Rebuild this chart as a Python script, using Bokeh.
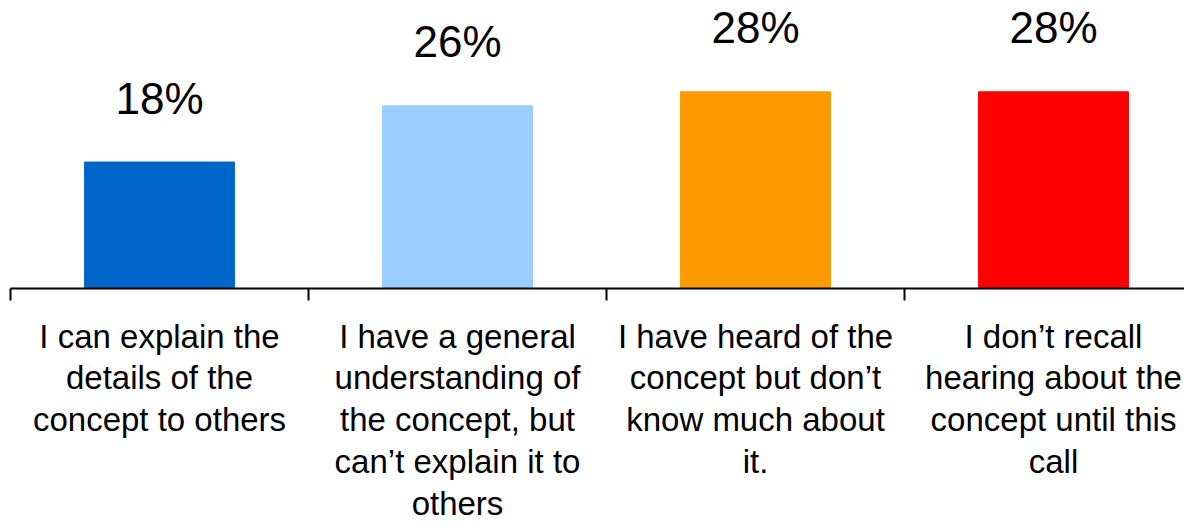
from bokeh.plotting import figure
from bokeh.models import Range1d, FixedTicker, ColumnDataSource, LinearAxis
from bokeh.embed import file_html
from bokeh.resources import INLINE
from bokeh.core.properties import value

categories = [
    "I can explain the\ndetails of the\nconcept to others",
    "I have a general\nunderstanding of\nthe concept, but\ncan\u2019t explain it to\nothers",
    "I have heard of the\nconcept but don\u2019t\nknow much about\nit.",
    "I don\u2019t recall\nhearing about the\nconcept until this\ncall",
]
values = [18, 26, 28, 28]
labels = ["18%", "26%", "28%", "28%"]
colors = ["#0066CC", "#99CCFF", "#FF9900", "#FF0000"]

xs = [i + 0.5 for i in range(len(values))]
src = ColumnDataSource(dict(x=xs, top=values, color=colors, label=labels))

FW, FH = 1174, 288
p = figure(frame_width=FW, frame_height=FH, output_backend="svg", toolbar_location=None,
           x_range=Range1d(0, FW / 298.0), y_range=Range1d(0, 41),
           min_border_left=10, min_border_right=0, min_border_top=0, min_border_bottom=0,
           x_axis_location=None, y_axis_location=None)
p.outline_line_color = None
p.grid.visible = False
p.background_fill_color = "white"
p.border_fill_color = "white"

p.vbar(x="x", top="top", width=0.503, bottom=0, color="color", source=src)
p.text(x="x", y="top", text="label", source=src, text_align="center",
       text_baseline="alphabetic", y_offset=-64,
       text_font=value("Liberation Sans"), text_font_size="44px", text_color="black")

ax = LinearAxis()
ax.ticker = FixedTicker(ticks=xs, minor_ticks=[0, 1, 2, 3, 4])
ax.major_label_overrides = {x: c for x, c in zip(xs, categories)}
ax.axis_line_color = "black"
ax.axis_line_width = 2
ax.major_tick_line_color = None
ax.major_tick_in = 0
ax.major_tick_out = 0
ax.minor_tick_line_color = "black"
ax.minor_tick_line_width = 2
ax.minor_tick_in = 0
ax.minor_tick_out = 12
ax.major_label_standoff = 17
ax.major_label_text_font = "Liberation Sans"
ax.major_label_text_font_size = "33px"
ax.major_label_text_color = "black"
ax.major_label_text_line_height = 1.13
p.add_layout(ax, "below")

open("out.html", "w").write(file_html(p, INLINE))
